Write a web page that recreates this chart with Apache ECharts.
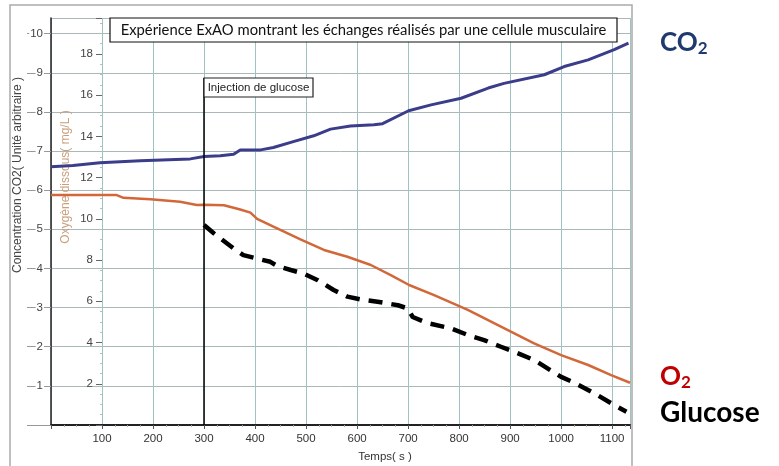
<!DOCTYPE html>
<html>
<head>
<meta charset="utf-8">
<script src="https://cdn.jsdelivr.net/npm/echarts@6/dist/echarts.min.js"></script>
<style>
html,body{margin:0;padding:0;background:#fff;}
#chart{width:779px;height:466px;}
</style>
</head>
<body>
<div id="chart"></div>
<script>
// ---- Data ----
const co2Time   = [0, 43, 96, 175, 273, 300, 332, 358, 371, 411, 436, 475, 515, 548, 587, 633, 650, 701, 745, 804, 857, 888, 967, 1006, 1053, 1104, 1132];
const co2Values = [6.60, 6.63, 6.70, 6.75, 6.80, 6.86, 6.88, 6.92, 7.03, 7.03, 7.09, 7.24, 7.39, 7.56, 7.64, 7.67, 7.70, 8.03, 8.18, 8.35, 8.61, 8.73, 8.95, 9.16, 9.33, 9.59, 9.76];

const o2Time   = [0, 129, 142, 195, 253, 286, 300, 339, 371, 391, 404, 436, 489, 535, 581, 627, 666, 702, 751, 817, 882, 947, 1000, 1053, 1098, 1135];
const o2Values = [11.15, 11.15, 11.02, 10.95, 10.83, 10.67, 10.68, 10.66, 10.45, 10.30, 10.00, 9.62, 9.00, 8.49, 8.16, 7.76, 7.27, 6.79, 6.30, 5.58, 4.77, 3.96, 3.39, 2.91, 2.42, 2.05];

const glucoseTime   = [300, 319, 358, 377, 411, 430, 444, 470, 495, 523, 554, 581, 607, 640, 680, 699, 709, 739, 784, 817, 849, 882, 908, 947, 1000, 1026, 1065, 1104, 1128];
const glucoseValues = [5.11, 4.90, 4.51, 4.34, 4.23, 4.17, 4.06, 3.96, 3.87, 3.70, 3.45, 3.28, 3.21, 3.15, 3.06, 2.98, 2.76, 2.60, 2.47, 2.30, 2.17, 2.00, 1.87, 1.66, 1.23, 1.08, 0.81, 0.51, 0.34];

const injectionTime = 300;
const injectionTop = 8.87;

const titleText = 'Expérience ExAO montrant les échanges réalisés par une cellule musculaire';
const injectionText = 'Injection de glucose';
const xName = 'Temps( s )';
const co2AxisName = 'Concentration CO2( Unité arbitraire )';
const o2AxisName = 'Oxygène dissous( mg/L )';

const zip = (a, b) => a.map((v, i) => [v, b[i]]);

const chart = echarts.init(document.getElementById('chart'), null, {renderer: 'canvas'});
const axisFont = '"Liberation Sans", Arial, sans-serif';

chart.setOption({
  animation: false,
  backgroundColor: '#fff',
  grid: {left: 51, right: 149, top: 18, bottom: 41, containLabel: false},
  xAxis: {
    type: 'value', min: 0, max: 1135, interval: 100,
    axisLine: {show: true, onZero: false, lineStyle: {color: '#222', width: 2}},
    axisTick: {show: true, length: 4, lineStyle: {color: '#555'}},
    minorTick: {show: true, splitNumber: 4, length: 2, lineStyle: {color: '#aaa'}},
    axisLabel: {color: '#333', fontSize: 11.5, fontFamily: axisFont, margin: 8, showMaxLabel: false,
      formatter: v => v === 0 ? '' : String(v)},
    splitLine: {show: true, lineStyle: {color: '#9fc3c5', width: 1}}
  },
  yAxis: [
    {
      type: 'value', min: 0, max: 10.4, interval: 1, position: 'left',
      axisLine: {show: true, onZero: false, lineStyle: {color: '#222', width: 1.5}},
      axisTick: {show: true, length: 24, lineStyle: {color: '#999'}},
      axisLabel: {color: '#444', fontSize: 11.5, fontFamily: axisFont, margin: 7, showMaxLabel: false,
        backgroundColor: '#fff', padding: [0, 1, 0, 1],
        formatter: v => v === 0 ? '' : String(v)},
      splitLine: {show: true, lineStyle: {color: '#a9b9b9', width: 1}}
    },
    {
      type: 'value', min: 0, max: 19.74, interval: 2, position: 'left', offset: -51,
      axisLine: {show: false},
      axisTick: {show: true, length: 6, lineStyle: {color: '#666'}},
      minorTick: {show: true, splitNumber: 4, length: 2, lineStyle: {color: '#bbb'}},
      axisLabel: {color: '#444', fontSize: 11.5, fontFamily: axisFont, margin: 9, showMaxLabel: false,
        formatter: v => v === 0 ? '' : String(v)},
      splitLine: {show: false}
    }
  ],
  series: [
    {
      name: 'CO2', type: 'line', yAxisIndex: 0, showSymbol: false, symbol: 'none',
      data: zip(co2Time, co2Values),
      lineStyle: {color: '#3b3d8a', width: 3}, z: 3
    },
    {
      name: 'O2', type: 'line', yAxisIndex: 1, showSymbol: false, symbol: 'none',
      data: zip(o2Time, o2Values),
      lineStyle: {color: '#d2683a', width: 2.5}, z: 3
    },
    {
      name: 'Glucose', type: 'line', yAxisIndex: 0, showSymbol: false, symbol: 'none',
      data: zip(glucoseTime, glucoseValues),
      lineStyle: {color: '#000', width: 4.5, type: [14, 9]}, z: 4,
      markLine: {
        silent: true, symbol: 'none', label: {show: false},
        lineStyle: {color: '#000', width: 1.5, type: 'solid'},
        data: [[{coord: [injectionTime, injectionTop]}, {coord: [injectionTime, 0]}]]
      }
    }
  ],
  graphic: [
    {type: 'rect', shape: {x: 10, y: 5, width: 622, height: 475}, style: {fill: 'none', stroke: '#aaa', lineWidth: 1.5}, z: 1, silent: true},
    {type: 'rect', shape: {x: 110, y: 18, width: 507, height: 24}, style: {fill: '#fff', stroke: '#111', lineWidth: 1.2}, z: 10},
    {type: 'text', x: 363.5, y: 30, style: {text: titleText, fill: '#111', font: '14.8px Lato, "Open Sans", sans-serif', textAlign: 'center', textVerticalAlign: 'middle'}, z: 11},
    {type: 'rect', shape: {x: 204, y: 78, width: 109, height: 19}, style: {fill: '#fff', stroke: '#222', lineWidth: 1.2}, z: 10},
    {type: 'text', x: 258.5, y: 87.5, style: {text: injectionText, fill: '#222', font: '11.5px "Liberation Sans Narrow", "Liberation Sans", Arial, sans-serif', textAlign: 'center', textVerticalAlign: 'middle'}, z: 11},
    {type: 'text', x: 18, y: 175, rotation: Math.PI / 2, style: {text: co2AxisName, fill: '#444', font: '12px "Liberation Sans", Arial, sans-serif', textAlign: 'center', textVerticalAlign: 'middle'}, z: 5},
    {type: 'text', x: 66, y: 177, rotation: Math.PI / 2, style: {text: o2AxisName, fill: '#c9a07c', font: '12px "Liberation Sans", Arial, sans-serif', textAlign: 'center', textVerticalAlign: 'middle'}, z: 2},
    {type: 'text', x: 385, y: 457, style: {text: xName, fill: '#333', font: '11.5px "Liberation Sans", Arial, sans-serif', textAlign: 'center', textVerticalAlign: 'middle'}, z: 5},
    {type: 'text', x: 660, y: 43, style: {
      text: '{a|CO}{b|2}', textVerticalAlign: 'middle',
      rich: {a: {fontSize: 26, fontWeight: 'bold', fill: '#1f3a6e', fontFamily: 'Lato, "Open Sans", sans-serif', lineHeight: 30},
             b: {fontSize: 17, fontWeight: 'bold', fill: '#1f3a6e', fontFamily: 'Lato, "Open Sans", sans-serif', padding: [12, 0, 0, 0], lineHeight: 30}}
    }, z: 5},
    {type: 'text', x: 660, y: 377, style: {
      text: '{a|O}{b|2}', textVerticalAlign: 'middle',
      rich: {a: {fontSize: 26, fontWeight: 'bold', fill: '#c00000', fontFamily: 'Lato, "Open Sans", sans-serif', lineHeight: 30},
             b: {fontSize: 17, fontWeight: 'bold', fill: '#c00000', fontFamily: 'Lato, "Open Sans", sans-serif', padding: [12, 0, 0, 0], lineHeight: 30}}
    }, z: 5},
    {type: 'text', x: 660, y: 413, style: {text: 'Glucose', fill: '#000', font: 'bold 28px Lato, "Open Sans", sans-serif', textVerticalAlign: 'middle'}, z: 5}
  ]
});
</script>
</body>
</html>
